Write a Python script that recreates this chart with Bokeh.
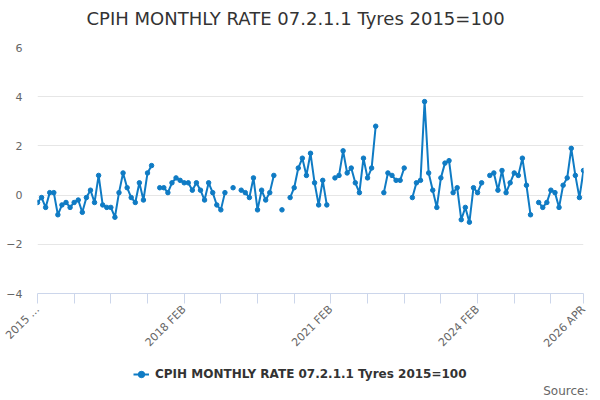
import math
from bokeh.plotting import figure
from bokeh.layouts import column
from bokeh.models import (Range1d, FixedTicker, Label, Legend, LegendItem,
                          ColumnDataSource)
from bokeh.embed import file_html
from bokeh.resources import INLINE

nan = float("nan")

title_text = "CPIH MONTHLY RATE 07.2.1.1 Tyres 2015=100"
series_name = "CPIH MONTHLY RATE 07.2.1.1 Tyres 2015=100"
source_text = "Source:"

# monthly rate, 2015 FEB .. 2026 APR (None = no value)
values = [
    -0.3, -0.1, -0.5, 0.1, 0.1, -0.8, -0.4, -0.3, -0.5, -0.3,
    -0.2, -0.7, -0.1, 0.2, -0.3, 0.8, -0.4, -0.5, -0.5, -0.9,
    0.1, 0.9, 0.3, -0.1, -0.3, 0.5, -0.2, 0.9, 1.2, None,
    0.3, 0.3, 0.1, 0.5, 0.7, 0.6, 0.5, 0.5, 0.2, 0.5,
    0.2, -0.2, 0.5, 0.1, -0.4, -0.6, 0.1, None, 0.3, None,
    0.2, 0.1, -0.1, 0.7, -0.6, 0.2, -0.2, 0.1, 0.8, None,
    -0.6, None, -0.1, 0.3, 1.1, 1.5, 0.8, 1.7, 0.5, -0.4,
    0.6, -0.4, None, 0.7, 0.8, 1.8, 0.9, 1.1, 0.5, 0.1,
    1.5, 0.7, 1.1, 2.8, None, 0.1, 0.9, 0.8, 0.6, 0.6,
    1.1, None, -0.1, 0.5, 0.6, 3.8, 0.9, 0.2, -0.5, 0.7,
    1.3, 1.4, 0.1, 0.3, -1.0, -0.5, -1.1, 0.3, 0.1, 0.5,
    None, 0.8, 0.9, 0.2, 1.0, 0.1, 0.5, 0.9, 0.8, 1.5,
    0.4, -0.8, None, -0.3, -0.5, -0.3, 0.2, 0.1, -0.5, 0.4,
    0.7, 1.9, 0.8, -0.1, 1.0,
]

tick_positions = [0, 9, 18, 27, 36, 45, 54, 63, 72, 81, 90, 99, 108, 117, 126, 134]
tick_labels = {0: "2015 ...", 36: "2018 FEB", 72: "2021 FEB", 108: "2024 FEB", 134: "2026 APR"}
y_ticks = [-4, -2, 0, 2, 4, 6]

xs = list(range(len(values)))
ys = [nan if v is None else v for v in values]
src = ColumnDataSource(data=dict(x=xs, y=ys))

BLUE = "#0f7bc4"
GREY = "#666666"
DARK = "#333333"
FONT = "DejaVu Sans"
W = 590


def strip(width, height):
    s = figure(width=width, height=height, output_backend="svg", toolbar_location=None,
               x_range=Range1d(0, 1), y_range=Range1d(100, 101),
               x_axis_type=None, y_axis_type=None,
               min_border_left=0, min_border_right=0, min_border_top=0,
               min_border_bottom=0)
    s.outline_line_color = None
    s.xgrid.visible = False
    s.ygrid.visible = False
    return s


# header strip with the title
h = strip(W, 36)
h.add_layout(Label(x=49, y=18, x_units="screen", y_units="screen",
                   text=title_text, text_align="left", text_baseline="middle",
                   text_font=FONT, text_font_size="18px", text_color=DARK))

# main chart
p = figure(width=W, height=324, output_backend="svg", toolbar_location=None,
           x_range=Range1d(0, len(values) - 1), y_range=Range1d(-4, 6),
           min_border_left=37, min_border_right=7, min_border_top=11,
           min_border_bottom=67)
p.outline_line_color = None

p.yaxis.ticker = FixedTicker(ticks=y_ticks)
p.yaxis.axis_line_color = None
p.yaxis.major_tick_line_color = None
p.yaxis.minor_tick_line_color = None
p.yaxis.major_label_text_font = FONT
p.yaxis.major_label_text_font_size = "11px"
p.yaxis.major_label_text_color = GREY
p.yaxis.major_label_standoff = 9

p.xaxis.ticker = FixedTicker(ticks=tick_positions)
p.xaxis.major_label_overrides = {t: tick_labels.get(t, "") for t in tick_positions}
p.xaxis.axis_line_color = "#ccd6eb"
p.xaxis.major_tick_line_color = "#ccd6eb"
p.xaxis.major_tick_out = 10
p.xaxis.major_tick_in = 0
p.xaxis.minor_tick_line_color = None
p.xaxis.major_label_orientation = math.pi / 4
p.xaxis.major_label_text_font = FONT
p.xaxis.major_label_text_font_size = "11px"
p.xaxis.major_label_text_color = GREY
p.xaxis.major_label_standoff = 4

p.xgrid.visible = False
p.ygrid.ticker = FixedTicker(ticks=y_ticks)
p.ygrid.grid_line_color = "#e6e6e6"

p.line("x", "y", source=src, line_color=BLUE, line_width=2)
p.scatter("x", "y", source=src, size=4.5, fill_color=BLUE, line_color=BLUE)

# footer strip: legend + source (its ranges keep the proxy series off-screen)
f = strip(597, 36)
leg_line = f.line("x", "y", source=src, line_color=BLUE, line_width=2)
leg_pts = f.scatter("x", "y", source=src, size=4.5, fill_color=BLUE, line_color=BLUE)
legend = Legend(items=[LegendItem(label=series_name, renderers=[leg_line, leg_pts])],
                location=(96, 12), orientation="horizontal",
                padding=0, margin=0, spacing=0,
                glyph_width=16, glyph_height=20, label_standoff=6,
                label_text_font=FONT, label_text_font_size="12px",
                label_text_font_style="bold", label_text_color=DARK,
                border_line_color=None, background_fill_alpha=0)
f.add_layout(legend)
f.add_layout(Label(x=551, y=6, x_units="screen", y_units="screen",
                   text=source_text, text_align="right",
                   text_baseline="middle", text_font=FONT,
                   text_font_size="12px", text_color=GREY))

open("out.html", "w").write(file_html(column(h, p, f, spacing=0), INLINE))
